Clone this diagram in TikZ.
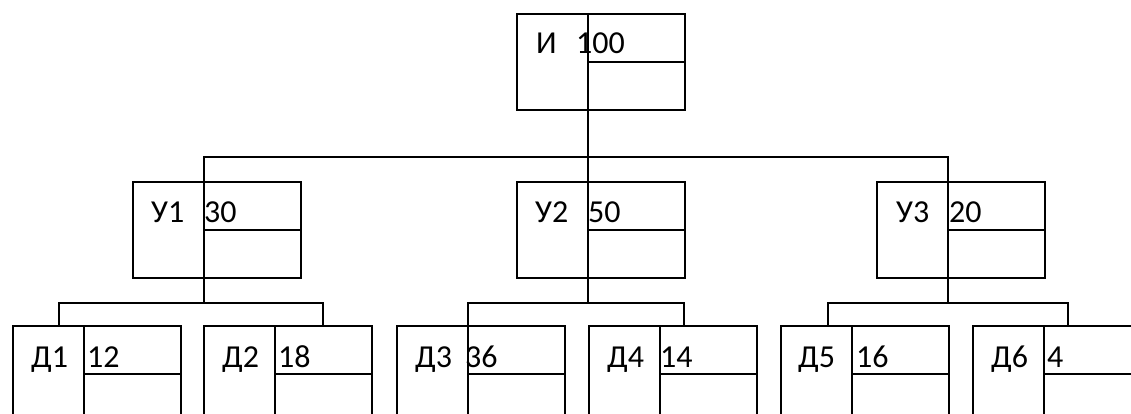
\documentclass[tikz,border=0pt]{standalone}
\usepackage{fontspec}
\setmainfont{Carlito}
\usetikzlibrary{positioning}

\begin{document}
\begin{tikzpicture}[x=1pt,y=-1pt,
    box/.style={rectangle, draw, line width=1.8pt, minimum width=168pt, minimum height=96pt, anchor=north west, inner sep=0pt},
    lbl/.style={anchor=base west, inner sep=0pt, font=\fontsize{32}{32}\selectfont},
    wire/.style={line width=1.8pt}]
    \useasboundingbox (0,0) rectangle (1131,414);
    \clip (0,0) rectangle (1131,414);
    % boxes
    \node[box] (I)  at (516,13)  {};
    \node[box] (U1) at (132,181) {};
    \node[box] (U2) at (516,181) {};
    \node[box] (U3) at (876,181) {};
    \node[box] (D1) at (12,325)  {};
    \node[box] (D2) at (203,325) {};
    \node[box] (D3) at (396,325) {};
    \node[box] (D4) at (588,325) {};
    \node[box] (D5) at (780,325) {};
    \node[box] (D6) at (972,325) {};
    % inner lines of every box
    \foreach \b in {I,U1,U2,U3,D1,D2,D3,D4,D5,D6}
        \draw[wire] ([xshift=72pt]\b.north west) -- ([xshift=72pt]\b.south west)
            ([xshift=72pt]\b.west) -- (\b.east);
    % labels
    \node[lbl] (I-name)  at (536,54)  {И};
    \node[lbl] (I-val)   at (576,54)  {100};
    \node[lbl] (U1-name) at (151,222) {У1};
    \node[lbl] (U1-val)  at (204,222) {30};
    \node[lbl] (U2-name) at (535,222) {У2};
    \node[lbl] (U2-val)  at (588,222) {50};
    \node[lbl] (U3-name) at (896,222) {У3};
    \node[lbl] (U3-val)  at (949,222) {20};
    \node[lbl] (D1-name) at (31,367)  {Д1};
    \node[lbl] (D1-val)  at (87,367)  {12};
    \node[lbl] (D2-name) at (222,367) {Д2};
    \node[lbl] (D2-val)  at (278,367) {18};
    \node[lbl] (D3-name) at (415,367) {Д3};
    \node[lbl] (D3-val)  at (465,367) {36};
    \node[lbl] (D4-name) at (607,367) {Д4};
    \node[lbl] (D4-val)  at (660,367) {14};
    \node[lbl] (D5-name) at (798,367) {Д5};
    \node[lbl] (D5-val)  at (856,367) {16};
    \node[lbl] (D6-name) at (991,367) {Д6};
    \node[lbl] (D6-val)  at (1047,367) {4};
    % connectors
    \draw[wire] ([xshift=72pt]I.south west) -- ([xshift=72pt]U2.north west);
    \draw[wire] ([xshift=72pt]U1.north west) -- ++(0,-24) -| ([xshift=72pt]U3.north west);
    \draw[wire] ([xshift=72pt]U1.south west) -- ++(0,24) coordinate (U1-bus);
    \draw[wire] ([xshift=72pt]U2.south west) -- ++(0,24) coordinate (U2-bus);
    \draw[wire] ([xshift=72pt]U3.south west) -- ++(0,24) coordinate (U3-bus);
    \draw[wire] ([xshift=47pt]D1.north west) |- (U1-bus) -| ([xshift=120pt]D2.north west);
    \draw[wire] ([xshift=72pt]D3.north west) |- (U2-bus) -| ([xshift=96pt]D4.north west);
    \draw[wire] ([xshift=48pt]D5.north west) |- (U3-bus) -| ([xshift=96pt]D6.north west);
\end{tikzpicture}
\end{document}
